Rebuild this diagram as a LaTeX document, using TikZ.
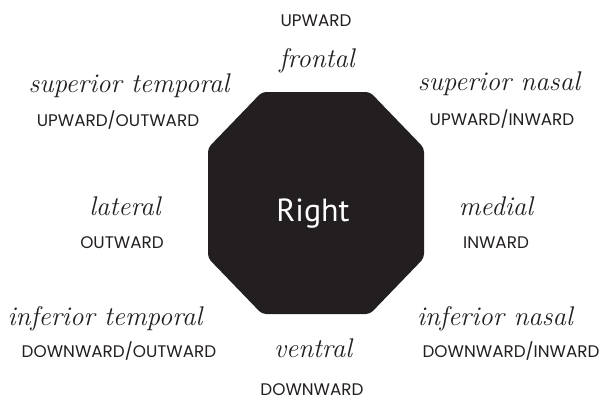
\documentclass[tikz,border=0pt]{standalone}
\usepackage{fontspec}
\setmainfont{Poppins}
\newfontfamily\rightfont{PT Sans}
\newcommand\scriptfnt{\fontfamily{lmr}\fontshape{it}\selectfont}
\definecolor{ink}{HTML}{231F20}
\begin{document}
\begin{tikzpicture}[x=1pt,y=-1pt,
  dirlbl/.style={font=\fontsize{16.8}{17}\selectfont, text=ink, anchor=base, inner sep=0pt},
  scrlbl/.style={font=\scriptfnt\fontsize{27}{27}\selectfont, text=ink, anchor=base, inner sep=0pt}]
\useasboundingbox (0,0) rectangle (602,402);
\fill[ink, rounded corners=4pt] (262,92) -- (370,92) -- (424,148) -- (424,258) -- (370,314) -- (262,314) -- (208,258) -- (208,148) -- cycle;
\node[font=\rightfont\fontsize{32}{32}\selectfont, text=white, anchor=base, inner sep=0pt] (right) at (313,221) {Right};

\node[dirlbl] (up) at (316,26) {UPWARD};
\node[scrlbl] (frontal) at (317,67) {frontal};

\node[scrlbl] (suptemp) at (129,92) {superior temporal};
\node[dirlbl] (upout) at (118,126) {UPWARD/OUTWARD};

\node[scrlbl] (supnas) at (499,90) {superior nasal};
\node[dirlbl] (upin) at (502,125) {UPWARD/INWARD};

\node[scrlbl] (lateral) at (125,215) {lateral};
\node[dirlbl] (out) at (122,248) {OUTWARD};

\node[scrlbl] (medial) at (496,215) {medial};
\node[dirlbl] (in) at (496,248) {INWARD};

\node[scrlbl] (inftemp) at (105,325) {inferior temporal};
\node[dirlbl] (downout) at (119,357) {DOWNWARD/OUTWARD};

\node[scrlbl] (ventral) at (313,357) {ventral};
\node[dirlbl] (down) at (312,395) {DOWNWARD};

\node[scrlbl] (infnas) at (495,325) {inferior nasal};
\node[dirlbl] (downin) at (511,357) {DOWNWARD/INWARD};
\end{tikzpicture}
\end{document}
